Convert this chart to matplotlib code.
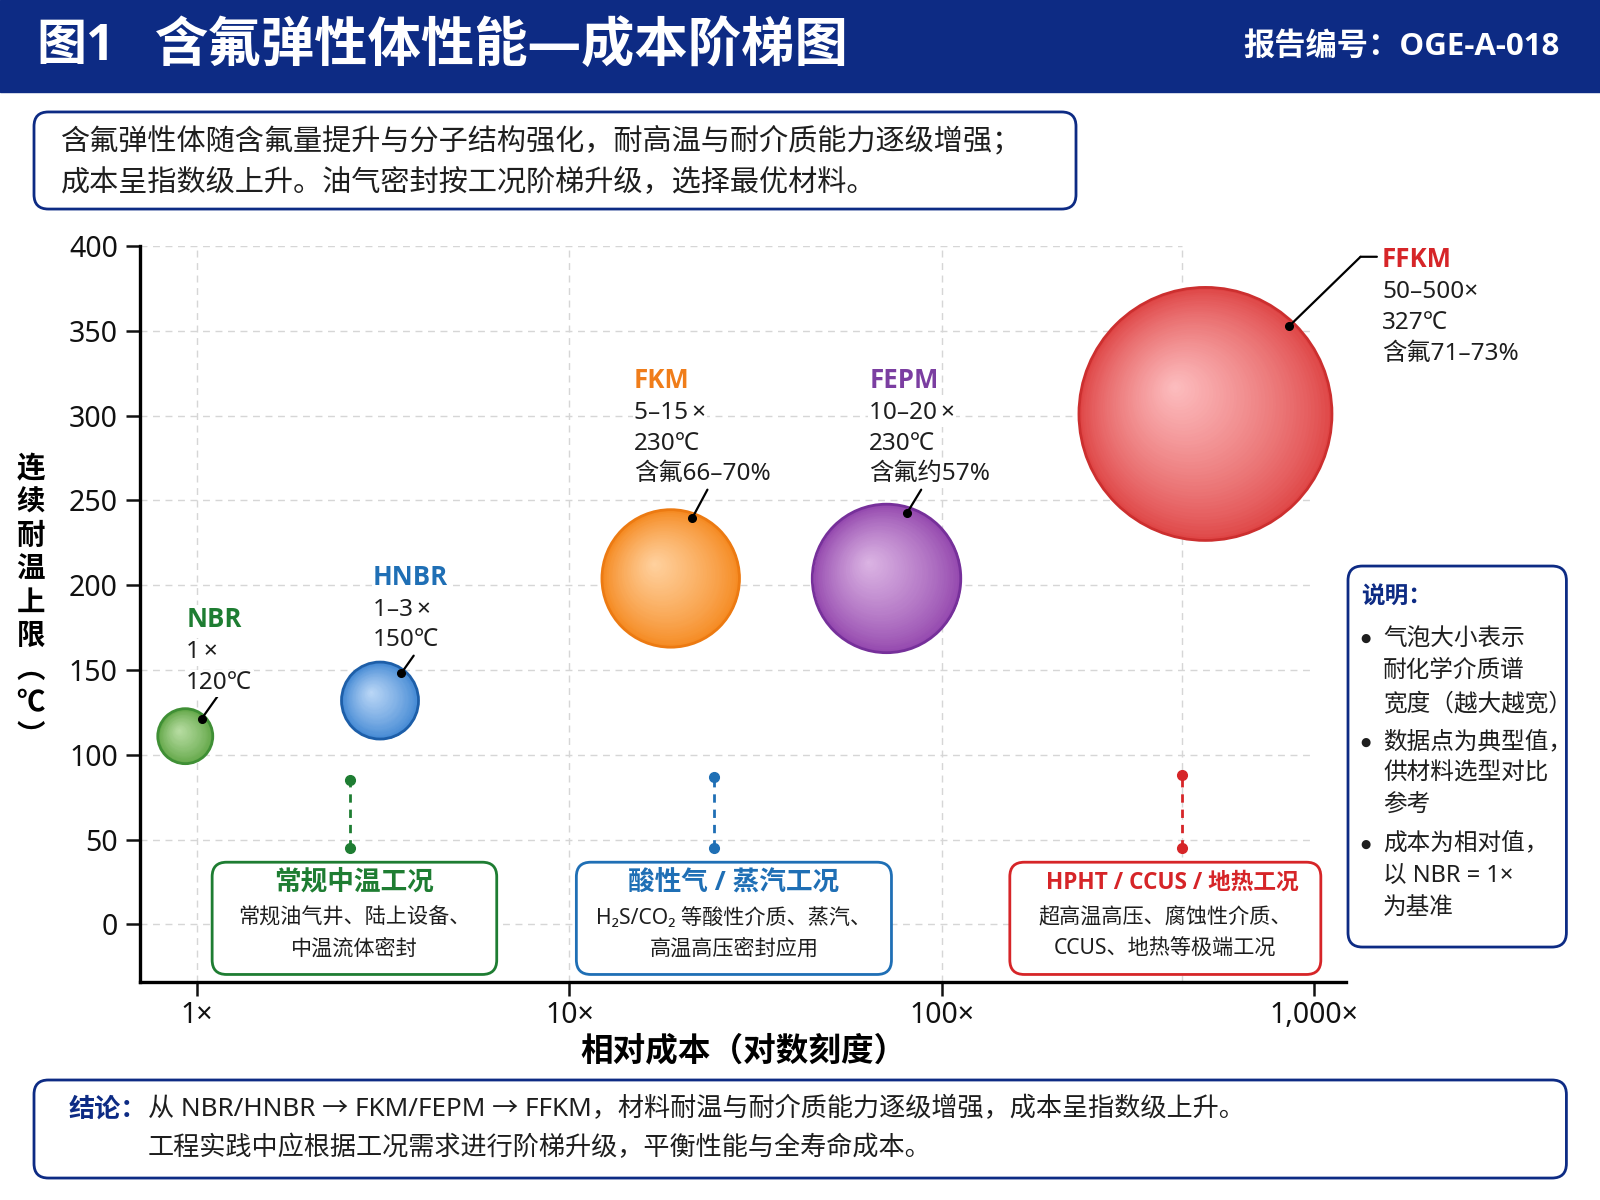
import numpy as np
import matplotlib
matplotlib.use('Agg')
import matplotlib.pyplot as plt
import matplotlib.transforms as mtransforms
from matplotlib.patches import FancyBboxPatch, Rectangle
from matplotlib.colors import to_rgb
from matplotlib.ticker import NullLocator

plt.rcParams['font.family'] = ['Noto Sans', 'Noto Sans CJK SC', 'DejaVu Sans']
BOLD = ['Open Sans', 'Noto Sans CJK SC', 'DejaVu Sans']   # Noto Sans has no bold face here

# ---- data ----
materials = ['NBR', 'HNBR', 'FKM', 'FEPM', 'FFKM']
cost_pos = [0.93, 3.1, 18.7, 71, 510]          # bubble centre, relative cost
temp_pos = [111, 132, 204, 204, 301]           # bubble centre, deg C
media_breadth = [1.0, 1.4, 2.5, 2.7, 4.6]      # relative bubble radius
cost_text = ['1\u2009×', '1–3\u2009×', '5–15\u2009×', '10–20\u2009×', '50–500×']
temp_text = ['120℃', '150℃', '230℃', '230℃', '327℃']
fluor_text = [None, None, '含氟66–70%', '含氟约57%', '含氟71–73%']

scen_titles = ['常规中温工况', '酸性气 / 蒸汽工况', 'HPHT / CCUS / 地热工况']
scen_lines = [['常规油气井、陆上设备、', '中温流体密封'],
              ['H₂S/CO₂ 等酸性介质、蒸汽、', '高温高压密封应用'],
              ['超高温高压、腐蚀性介质、', 'CCUS、地热等极端工况']]
scen_cost = [2.57, 24.5, 442]
scen_top = [85, 87, 88]
scen_bottom = [45, 45, 45]

x_ticks = [1, 10, 100, 1000]
x_ticklabels = ['1×', '10×', '100×', '1,000×']
y_ticks = list(range(0, 401, 50))

note_lines = [['气泡大小表示', '耐化学介质谱', '宽度（越大越宽）'],
              ['数据点为典型值，', '供材料选型对比', '参考'],
              ['成本为相对值，', '以 NBR = 1×', '为基准']]

# ---- styles ----
navy = '#0d2b84'
txt = '#1e1e1e'
grid_col = '#d6d6d6'
label_col = ['#1e7d32', '#1f6fb5', '#f07d1a', '#7b3ea1', '#d62528']
edge_col = ['#5fa544', '#3f86d3', '#f5891f', '#9346ad', '#df4545']
hi_col = ['#b9dea4', '#bcd8f7', '#ffd2a0', '#dcb5e4', '#fdbec0']
line_col = ['#3f8f35', '#1d5ea8', '#ec7a12', '#76309a', '#cc2f2f']
scen_col = ['#1e7d32', '#1f6fb5', '#d62528']

K = 0.7347  # screen px of the reference -> points
# offsets (reference px, y up) from bubble centre: dot, leader end, text start
dot_off = [(16, 17), (21, 27), (21, 59), (20, 64), (82, 86)]
end_off = [(33, 41), (33, 44), (36, 87), (34, 87), (152, 154)]
text_off = [(1, 114), (-7, 121), (-36, 194), (-17, 194), (173, 151)]

fig = plt.figure(figsize=(16, 12), dpi=100)

# header band
fig.patches.append(Rectangle((0, 0.9233), 1, 0.0767, transform=fig.transFigure,
                             color=navy, zorder=0))
fig.text(0.0225, 0.961, '图1', color='white', fontsize=36, fontweight='bold', va='center',
         family=BOLD)
fig.text(0.097, 0.961, '含氟弹性体性能—成本阶梯图', color='white', fontsize=38.4,
         fontweight='bold', va='center', family=BOLD)
fig.text(0.9745, 0.961, '报告编号：OGE-A-018', color='white', fontsize=22.5,
         fontweight='bold', va='center', ha='right', family=BOLD)


def fig_box(x0, y0, x1, y1):
    fig.patches.append(FancyBboxPatch((x0, y0), x1 - x0, y1 - y0,
                                      boxstyle='round,pad=0,rounding_size=0.009',
                                      mutation_aspect=1600 / 1200,
                                      transform=fig.transFigure, facecolor='white',
                                      edgecolor=navy, lw=2, zorder=1))


# intro box
fig_box(0.02125, 0.8258, 0.6725, 0.9067)
fig.text(0.0383, 0.8818, '含氟弹性体随含氟量提升与分子结构强化，耐高温与耐介质能力逐级增强；',
         fontsize=21, color=txt, va='center')
fig.text(0.0383, 0.8469, '成本呈指数级上升。油气密封按工况阶梯升级，选择最优材料。',
         fontsize=21, color=txt, va='center')

# main axes
ax = fig.add_axes([0.0875, 0.182, 0.754, 0.613])
ax.set_xscale('log')
ax.set_xlim(0.703, 1219)
ax.set_ylim(-33.7, 400)
ax.set_xticks(x_ticks, x_ticklabels)
ax.xaxis.set_minor_locator(NullLocator())
ax.set_yticks(y_ticks)
ax.tick_params(axis='both', length=10, width=1.8, labelsize=20.5, pad=6, colors='#111111')
ax.tick_params(axis='x', pad=4)
for s in ['top', 'right']:
    ax.spines[s].set_visible(False)
for s in ['left', 'bottom']:
    ax.spines[s].set_linewidth(2.4)

# dashed grid: horizontal lines stop at 1,000x, the top one at the HPHT marker
for yv in y_ticks:
    ax.hlines(yv, ax.get_xlim()[0], scen_cost[2] if yv == 400 else 1000,
              color=grid_col, lw=1, ls=(0, (5, 4)), zorder=0)
for xv in [1, 10, 100, scen_cost[2]]:
    ax.axvline(xv, color=grid_col, lw=1, ls=(0, (5, 4)), zorder=0)

ax.set_xlabel('相对成本（对数刻度）', fontsize=23.5, fontweight='bold', labelpad=4,
              family=BOLD)
ax.set_ylabel('连\n续\n耐\n温\n上\n限\n︵\n℃\n︶', rotation=0, fontsize=20.5,
              fontweight='bold', linespacing=1.2, va='center', ha='center', family=BOLD)
ax.yaxis.set_label_coords(-0.0906, 0.514)


def off(dx, dy):
    return ax.transData + mtransforms.ScaledTranslation(dx * K / 72, dy * K / 72,
                                                        fig.dpi_scale_trans)


base_r = 19.8  # points for breadth 1.0
for i, m in enumerate(materials):
    x, y = cost_pos[i], temp_pos[i]
    r = base_r * media_breadth[i]
    c0, c1 = np.array(to_rgb(edge_col[i])), np.array(to_rgb(hi_col[i]))
    hx, hy = -0.25 * r, 0.22 * r
    n = 45
    for k in range(n):
        t = k / n
        rad = r * (1 - t)
        tr = ax.transData + mtransforms.ScaledTranslation(t * hx / 72, t * hy / 72,
                                                          fig.dpi_scale_trans)
        col = c0 + (c1 - c0) * (t ** 0.8)
        ax.scatter([x], [y], s=(2 * rad) ** 2, color=col, lw=0, transform=tr, zorder=3)
    ax.scatter([x], [y], s=(2 * r) ** 2, facecolor='none', edgecolor=line_col[i],
               lw=2, zorder=4)

    # leader line + dot
    dx, dy = dot_off[i]
    ex, ey = end_off[i]
    ax.annotate('', xy=(x, y), xycoords=off(dx, dy), xytext=(x, y), textcoords=off(ex, ey),
                arrowprops=dict(arrowstyle='-', color='black', lw=1.6, shrinkA=0, shrinkB=0),
                zorder=5)
    if m == 'FFKM':
        ax.annotate('', xy=(x, y), xycoords=off(ex, ey), xytext=(x, y),
                    textcoords=off(ex + 16, ey),
                    arrowprops=dict(arrowstyle='-', color='black', lw=1.6, shrinkA=0,
                                    shrinkB=0), zorder=5)
    ax.plot([x], [y], 'o', color='black', ms=5.5, transform=off(dx, dy), zorder=6)

    # label block
    tx, ty = text_off[i]
    ax.text(x, y, m, transform=off(tx, ty), fontsize=18.5, fontweight='bold',
            color=label_col[i], ha='left', va='center', zorder=5, family=BOLD,
            bbox=dict(facecolor='white', edgecolor='none', pad=1))
    lines = [cost_text[i], temp_text[i]] + ([fluor_text[i]] if fluor_text[i] else [])
    for j, s in enumerate(lines):
        ax.text(x, y, s, transform=off(tx, ty - 32 - 30 * j), fontsize=17.5, color=txt,
                ha='left', va='center', zorder=5,
                bbox=dict(facecolor='white', edgecolor='none', pad=1))

# scenario connectors
for i in range(3):
    xs = [scen_cost[i], scen_cost[i]]
    ax.plot(xs, [scen_bottom[i], scen_top[i]], ls=(0, (3, 2.5)), color=scen_col[i],
            lw=2, zorder=3)
    ax.plot(xs, [scen_bottom[i], scen_top[i]], 'o', color=scen_col[i], ms=7, zorder=3)

# scenario boxes (axes fraction)
box_x = [(0.0598, 0.2957), (0.3617, 0.6229), (0.7210, 0.9788)]
title_size = [19.2, 19.2, 16.3]
for i in range(3):
    x0, x1 = box_x[i]
    ax.add_patch(FancyBboxPatch((x0, 0.0097), x1 - x0, 0.1526,
                                boxstyle='round,pad=0,rounding_size=0.012',
                                mutation_aspect=1207 / 735.6, transform=ax.transAxes,
                                facecolor='white', edgecolor=scen_col[i], lw=2, zorder=4))
    xc = (x0 + x1) / 2
    ax.text(xc + (0.006 if i == 2 else 0), 0.135, scen_titles[i], transform=ax.transAxes,
            fontsize=title_size[i], fontweight='bold', color=scen_col[i], ha='center',
            va='center', zorder=5, family=BOLD)
    for j, s in enumerate(scen_lines[i]):
        ax.text(xc, 0.0859 - 0.0416 * j, s, transform=ax.transAxes, fontsize=15.2,
                color=txt, ha='center', va='center', zorder=5)

# note box
fig_box(0.8425, 0.2108, 0.979, 0.5283)
fig.text(0.851, 0.503, '说明：', fontsize=17, fontweight='bold', color=navy, va='center',
         family=BOLD)
note_y = [0.4677, 0.4405, 0.4133, 0.3818, 0.3554, 0.3283, 0.2968, 0.2704, 0.2432]
k = 0
for group in note_lines:
    for j, s in enumerate(group):
        if j == 0:
            fig.text(0.8505, note_y[k], '●', fontsize=8.5, color=txt, va='center',
                     family=['DejaVu Sans'])
        fig.text(0.8645, note_y[k], s, fontsize=17, color=txt, va='center')
        k += 1

# conclusion box
fig_box(0.02125, 0.0183, 0.979, 0.1)
fig.text(0.0427, 0.0757, '结论：', fontsize=18.8, fontweight='bold', color=navy, va='center',
         family=BOLD)
fig.text(0.0925, 0.0757, '从 NBR/HNBR → FKM/FEPM → FFKM，材料耐温与耐介质能力逐级增强，成本呈指数级上升。',
         fontsize=18.8, color=txt, va='center')
fig.text(0.0925, 0.0433, '工程实践中应根据工况需求进行阶梯升级，平衡性能与全寿命成本。',
         fontsize=18.8, color=txt, va='center')

fig.savefig('out.png', dpi=100)
